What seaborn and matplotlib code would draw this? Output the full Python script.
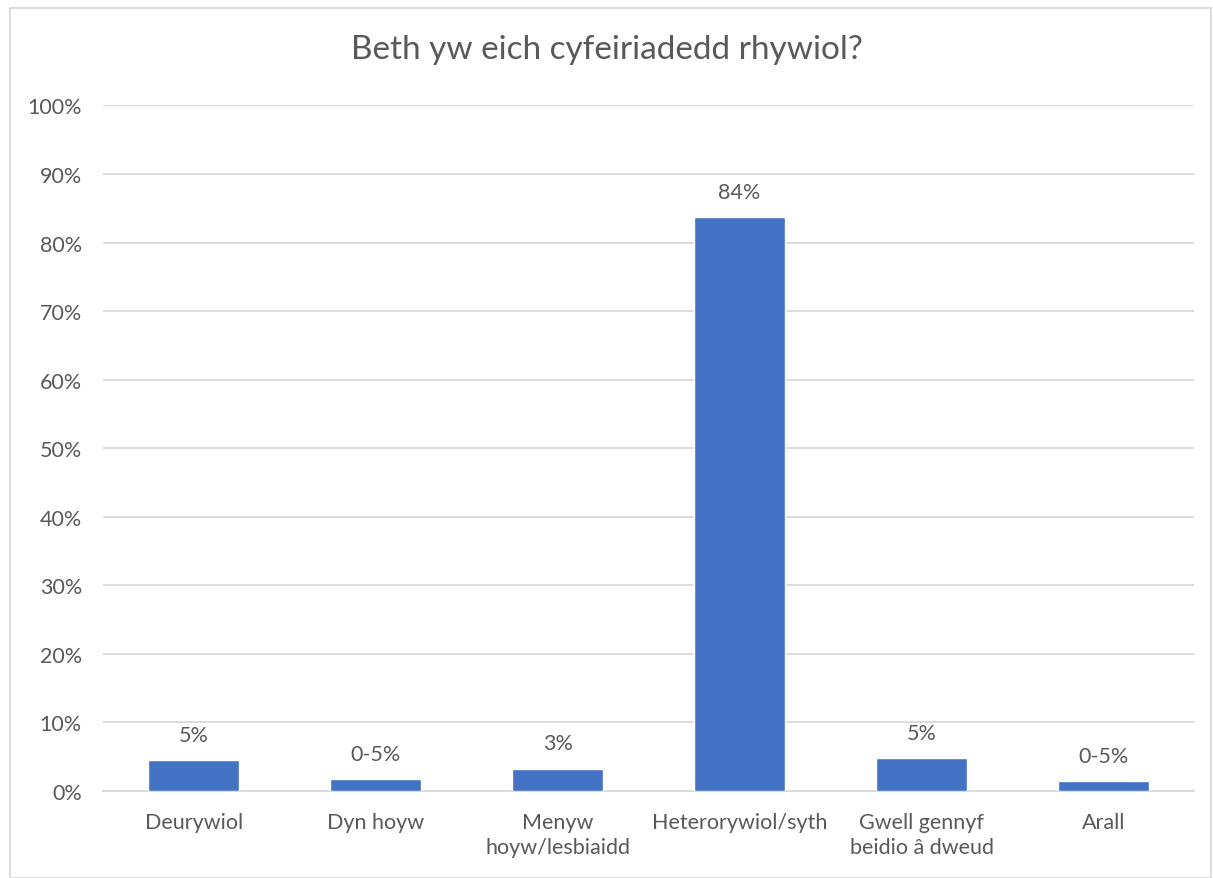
import matplotlib
matplotlib.use("Agg")
import matplotlib.pyplot as plt
import seaborn as sns
import pandas as pd
import numpy as np
from matplotlib.patches import Rectangle

# data
categories = ["Deurywiol", "Dyn hoyw", "Menyw\nhoyw/lesbiaidd", "Heterorywiol/syth",
              "Gwell gennyf\nbeidio â dweud", "Arall"]
values = [4.5, 1.75, 3.25, 83.7, 4.8, 1.4]
value_labels = ["5%", "0-5%", "3%", "84%", "5%", "0-5%"]
yticks = list(range(0, 101, 10))

df = pd.DataFrame({"cat": categories, "val": values})

sns.set_style("white")
plt.rcParams["font.family"] = ["Lato", "DejaVu Sans"]

text_col = "#595959"
grid_col = "#D9D9D9"

fig = plt.figure(figsize=(12.13, 8.79), dpi=100)
ax = fig.add_axes([0.0847, 0.099, 0.900, 0.7799])

sns.barplot(data=df, x="cat", y="val", color="#4472C4", width=0.5,
            saturation=1, ax=ax, zorder=3)

ax.bar_label(ax.containers[0], labels=value_labels, padding=11,
             fontsize=15.5, color=text_col)

ax.set_ylim(0, 100)
ax.set_xlim(-0.5, len(categories) - 0.5)
ax.set_yticks(yticks)
ax.set_yticklabels([f"{t}%" for t in yticks])
ax.yaxis.grid(True, color=grid_col, linewidth=1.3, zorder=0)
ax.set_axisbelow(True)

for s in ["top", "right", "left"]:
    ax.spines[s].set_visible(False)
ax.spines["bottom"].set_color(grid_col)
ax.spines["bottom"].set_linewidth(1.3)

ax.set_xlabel("")
ax.set_ylabel("")
ax.tick_params(axis="y", length=0, labelsize=15.5, labelcolor=text_col, pad=15)
ax.tick_params(axis="x", which="major", length=0, labelsize=15.5,
               labelcolor=text_col, pad=15)
for lbl in ax.get_xticklabels():
    lbl.set_linespacing(1.3)
ax.set_xticks(np.arange(-0.5, len(categories), 1), minor=True)
ax.tick_params(axis="x", which="minor", length=6, color=grid_col, width=1.3)

fig.suptitle("Beth yw eich cyfeiriadedd rhywiol?", y=0.943, va="center",
             fontsize=24, color=text_col)

fig.patches.append(Rectangle((0.008, 0.0), 0.99, 0.99, transform=fig.transFigure,
                             fill=False, edgecolor=grid_col, linewidth=1.3))

fig.savefig("out.png", dpi=100)
